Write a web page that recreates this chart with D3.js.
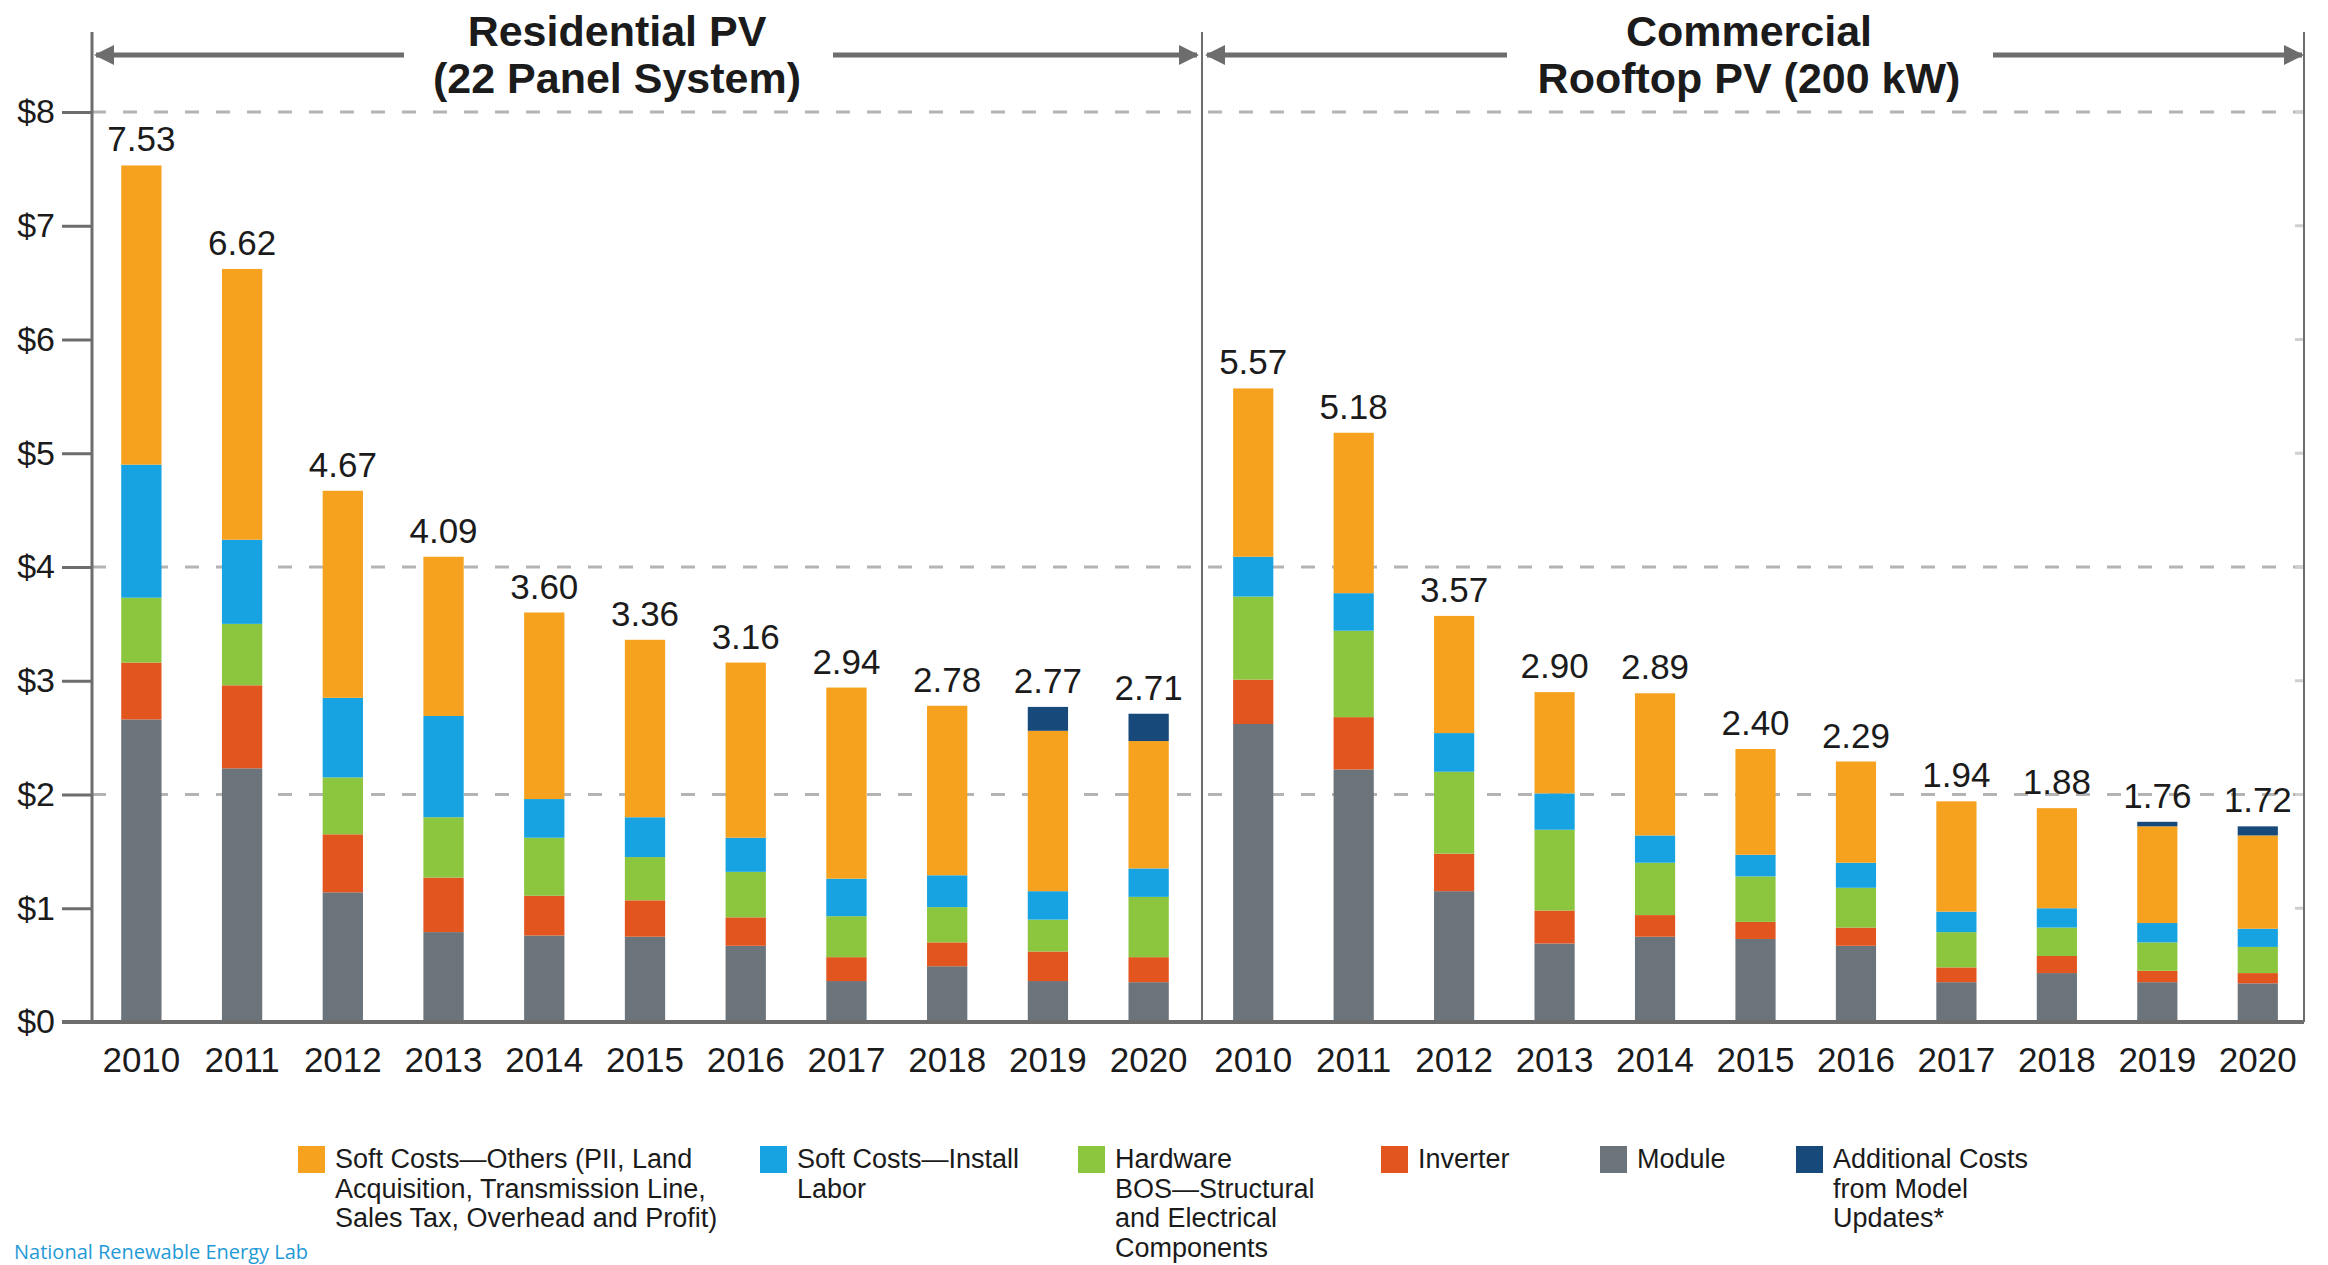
<!DOCTYPE html>
<html>
<head>
<meta charset="utf-8">
<script src="https://cdn.jsdelivr.net/npm/d3@7/dist/d3.min.js"></script>
<style>
  html, body { margin: 0; padding: 0; background: #ffffff; }
  svg { display: block; }
</style>
</head>
<body>
<svg id="chart" width="2328" height="1265"></svg>
<script>
// ---- data ($/W) ----
const years = ["2010", "2011", "2012", "2013", "2014", "2015", "2016", "2017", "2018", "2019", "2020"];

const residentialTotals = [7.53, 6.62, 4.67, 4.09, 3.60, 3.36, 3.16, 2.94, 2.78, 2.77, 2.71];
const resModule     = [2.66, 2.23, 1.14, 0.79, 0.76, 0.75, 0.67, 0.36, 0.49, 0.36, 0.35];
const resInverter   = [0.50, 0.73, 0.51, 0.48, 0.35, 0.32, 0.25, 0.21, 0.21, 0.26, 0.22];
const resHardware   = [0.57, 0.54, 0.50, 0.53, 0.51, 0.38, 0.40, 0.36, 0.31, 0.28, 0.53];
const resLabor      = [1.17, 0.74, 0.70, 0.89, 0.34, 0.35, 0.30, 0.33, 0.28, 0.25, 0.25];
const resOthers     = [2.63, 2.38, 1.82, 1.40, 1.64, 1.56, 1.54, 1.68, 1.49, 1.41, 1.12];
const resAdditional = [0, 0, 0, 0, 0, 0, 0, 0, 0, 0.21, 0.24];

const commercialTotals = [5.57, 5.18, 3.57, 2.90, 2.89, 2.40, 2.29, 1.94, 1.88, 1.76, 1.72];
const comModule     = [2.62, 2.22, 1.15, 0.69, 0.75, 0.73, 0.67, 0.35, 0.43, 0.35, 0.34];
const comInverter   = [0.39, 0.46, 0.33, 0.29, 0.19, 0.15, 0.16, 0.13, 0.15, 0.10, 0.09];
const comHardware   = [0.73, 0.76, 0.72, 0.71, 0.46, 0.40, 0.35, 0.31, 0.25, 0.25, 0.23];
const comLabor      = [0.35, 0.33, 0.34, 0.32, 0.24, 0.19, 0.22, 0.18, 0.17, 0.17, 0.16];
const comOthers     = [1.48, 1.41, 1.03, 0.89, 1.25, 0.93, 0.89, 0.97, 0.88, 0.85, 0.82];
const comAdditional = [0, 0, 0, 0, 0, 0, 0, 0, 0, 0.04, 0.08];

const yTicks = [0, 1, 2, 3, 4, 5, 6, 7, 8];
const gridValues = [2, 4, 8];

// stacking order, bottom to top
const keys = ["module", "inverter", "hardware", "labor", "others", "additional"];
const colors = {
  module: "#6b737b",
  inverter: "#e3551f",
  hardware: "#8cc63f",
  labor: "#17a3e1",
  others: "#f6a21e",
  additional: "#17497a"
};
const legendLabels = [
  ["others", ["Soft Costs\u2014Others (PII, Land", "Acquisition, Transmission Line,", "Sales Tax, Overhead and Profit)"]],
  ["labor", ["Soft Costs\u2014Install", "Labor"]],
  ["hardware", ["Hardware", "BOS\u2014Structural", "and Electrical", "Components"]],
  ["inverter", ["Inverter"]],
  ["module", ["Module"]],
  ["additional", ["Additional Costs", "from Model", "Updates*"]]
];

function buildRows(mod, inv, hw, lab, oth, add) {
  return years.map((yr, i) => ({
    year: yr, module: mod[i], inverter: inv[i], hardware: hw[i],
    labor: lab[i], others: oth[i], additional: add[i]
  }));
}
const residentialRows = buildRows(resModule, resInverter, resHardware, resLabor, resOthers, resAdditional);
const commercialRows = buildRows(comModule, comInverter, comHardware, comLabor, comOthers, comAdditional);

// ---- layout ----
const FONT = "'Liberation Sans Narrow', 'Arial Narrow', 'Liberation Sans', Arial, sans-serif";
const TEXT = "#1b1b1b";
const AXIS = "#6d6d6d";

const svg = d3.select("#chart");
const axisX = 92, dividerX = 1202, rightX = 2304;
const topY = 32;

const y = d3.scaleLinear().domain([0, 8]).range([1022, 112]);
const xRes = d3.scaleBand().domain(years).range([91, 1199]).paddingInner(0.6).paddingOuter(0.3);
const xCom = d3.scaleBand().domain(years).range([1203, 2308]).paddingInner(0.6).paddingOuter(0.3);

// dashed gridlines
svg.append("g").selectAll("line").data(gridValues).join("line")
  .attr("x1", axisX).attr("x2", rightX)
  .attr("y1", d => y(d)).attr("y2", d => y(d))
  .attr("stroke", "#b4b4b4").attr("stroke-width", 3)
  .attr("stroke-dasharray", "14,17");

// faint ticks inside the right border
svg.append("g").selectAll("line").data(yTicks.filter(d => d > 0)).join("line")
  .attr("x1", rightX - 9).attr("x2", rightX)
  .attr("y1", d => y(d)).attr("y2", d => y(d))
  .attr("stroke", "#cfcfcf").attr("stroke-width", 3);

// stacked bars
const stack = d3.stack().keys(keys);
function drawPanel(rows, x, totals) {
  const series = stack(rows);
  const g = svg.append("g");
  g.selectAll("g").data(series).join("g")
    .attr("fill", d => colors[d.key])
    .selectAll("rect").data(d => d).join("rect")
      .attr("x", d => x(d.data.year))
      .attr("width", x.bandwidth())
      .attr("y", d => y(d[1]))
      .attr("height", d => Math.max(0, y(d[0]) - y(d[1])));
  g.selectAll("text.total").data(years).join("text")
    .attr("class", "total")
    .attr("x", d => x(d) + x.bandwidth() / 2)
    .attr("y", (d, i) => y(totals[i]) - 14)
    .attr("text-anchor", "middle")
    .attr("font-family", FONT).attr("font-size", 35)
    .attr("fill", TEXT)
    .text((d, i) => totals[i].toFixed(2));

  const xa = svg.append("g").attr("transform", `translate(0,${y(0)})`)
    .call(d3.axisBottom(x).tickSize(0).tickPadding(25));
  xa.select(".domain").remove();
  xa.selectAll("text").attr("font-family", FONT).attr("font-size", 35).attr("fill", TEXT);
}
drawPanel(residentialRows, xRes, residentialTotals);
drawPanel(commercialRows, xCom, commercialTotals);

// y axis
const ya = svg.append("g").attr("transform", `translate(${axisX},0)`)
  .call(d3.axisLeft(y).tickValues(yTicks).tickFormat(d => "$" + d).tickSize(30).tickPadding(7));
ya.select(".domain").remove();
ya.selectAll(".tick line").attr("stroke", AXIS).attr("stroke-width", 3);
ya.selectAll("text").attr("font-family", FONT).attr("font-size", 34).attr("fill", TEXT);

// frame lines
svg.append("line").attr("x1", axisX).attr("x2", axisX).attr("y1", topY).attr("y2", y(0))
  .attr("stroke", AXIS).attr("stroke-width", 3);
svg.append("line").attr("x1", dividerX).attr("x2", dividerX).attr("y1", topY).attr("y2", y(0))
  .attr("stroke", AXIS).attr("stroke-width", 2);
svg.append("line").attr("x1", rightX).attr("x2", rightX).attr("y1", topY).attr("y2", y(0))
  .attr("stroke", AXIS).attr("stroke-width", 2);
svg.append("line").attr("x1", 62).attr("x2", rightX).attr("y1", y(0)).attr("y2", y(0))
  .attr("stroke", AXIS).attr("stroke-width", 4);

// panel headers with span arrows
svg.append("defs").append("marker")
  .attr("id", "arrowhead").attr("viewBox", "0 0 10 10")
  .attr("refX", 9).attr("refY", 5)
  .attr("markerWidth", 4.4).attr("markerHeight", 4)
  .attr("markerUnits", "strokeWidth").attr("orient", "auto")
  .append("path").attr("d", "M0,0 L10,5 L0,10 Z").attr("fill", AXIS);

const headers = [
  { lines: ["Residential PV", "(22 Panel System)"], cx: 617, left: [404, 96], right: [833, 1197] },
  { lines: ["Commercial", "Rooftop PV (200 kW)"], cx: 1749, left: [1507, 1207], right: [1993, 2302] }
];
headers.forEach(h => {
  const t = svg.append("text").attr("text-anchor", "middle")
    .attr("font-family", FONT).attr("font-weight", "bold").attr("font-size", 43).attr("fill", TEXT);
  h.lines.forEach((ln, i) => t.append("tspan").attr("x", h.cx).attr("y", 46 + i * 47).text(ln));
  [h.left, h.right].forEach(seg => {
    svg.append("line").attr("x1", seg[0]).attr("x2", seg[1]).attr("y1", 55).attr("y2", 55)
      .attr("stroke", AXIS).attr("stroke-width", 5).attr("marker-end", "url(#arrowhead)");
  });
});

// legend
const legendX = [298, 760, 1078, 1381, 1600, 1796];
const legend = svg.append("g");
legendLabels.forEach(([key, lines], i) => {
  legend.append("rect").attr("x", legendX[i]).attr("y", 1146).attr("width", 27).attr("height", 27)
    .attr("fill", colors[key]);
  const t = legend.append("text").attr("font-family", FONT).attr("font-size", 27).attr("fill", TEXT);
  lines.forEach((ln, j) => t.append("tspan").attr("x", legendX[i] + 37).attr("y", 1168 + j * 29.5).text(ln));
});

// source line
svg.append("text").attr("x", 14).attr("y", 1259)
  .attr("font-family", "'Open Sans', sans-serif").attr("font-size", 20).attr("fill", "#1f9ad6")
  .text("National Renewable Energy Lab");
</script>
</body>
</html>
